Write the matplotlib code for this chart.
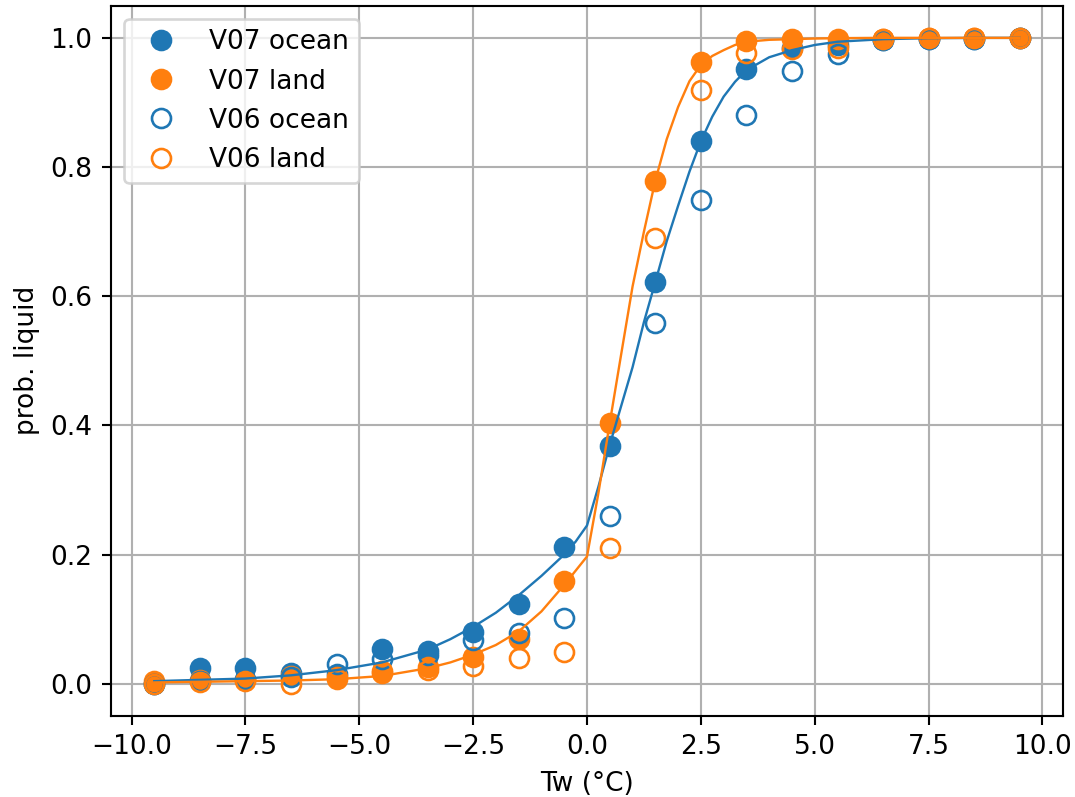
import matplotlib
matplotlib.use("Agg")
import matplotlib.pyplot as plt

# Bin centres (Tw, °C)
tw = [-9.5, -8.5, -7.5, -6.5, -5.5, -4.5, -3.5, -2.5, -1.5, -0.5,
      0.5, 1.5, 2.5, 3.5, 4.5, 5.5, 6.5, 7.5, 8.5, 9.5]

v07_ocean = [0.000, 0.024, 0.024, 0.017, 0.015, 0.054, 0.050, 0.080, 0.124, 0.211,
             0.368, 0.622, 0.840, 0.952, 0.984, 0.989, 0.997, 0.999, 0.999, 1.000]
v07_land = [0.004, 0.006, 0.006, 0.012, 0.011, 0.017, 0.026, 0.042, 0.070, 0.159,
            0.404, 0.779, 0.963, 0.995, 0.998, 0.998, 0.999, 1.000, 1.000, 1.000]
v06_ocean = [0.000, 0.005, 0.008, 0.010, 0.030, 0.038, 0.045, 0.068, 0.078, 0.101,
             0.259, 0.559, 0.749, 0.880, 0.949, 0.975, 0.996, 0.999, 0.998, 1.000]
v06_land = [0.000, 0.003, 0.005, 0.000, 0.008, 0.020, 0.022, 0.028, 0.040, 0.049,
            0.210, 0.690, 0.920, 0.976, 0.982, 0.984, 0.999, 1.000, 1.000, 1.000]

# Fitted curves
fit_x = [-9.5, -8.5, -7.5, -6.5, -5.5, -4.5, -3.5, -3.0, -2.5, -2.0, -1.5, -1.0, -0.5,
         -0.25, 0.0, 0.25, 0.5, 0.75, 1.0, 1.25, 1.5, 1.75, 2.0, 2.25, 2.5,
         2.75, 3.0, 3.25, 3.5, 4.0, 4.5, 5.0, 5.5, 6.5, 7.5, 8.5, 9.5]
fit_ocean = [0.004, 0.006, 0.008, 0.013, 0.021, 0.033, 0.053, 0.069, 0.088, 0.110,
             0.137, 0.167, 0.200, 0.220, 0.245, 0.305, 0.370, 0.430, 0.490, 0.560,
             0.622, 0.685, 0.740, 0.793, 0.840, 0.878, 0.909, 0.932, 0.950, 0.970,
             0.981, 0.989, 0.994, 0.998, 0.9995, 1.000, 1.000]
fit_land = [0.002, 0.003, 0.004, 0.005, 0.007, 0.012, 0.024, 0.033, 0.045, 0.060,
            0.081, 0.112, 0.153, 0.175, 0.197, 0.295, 0.404, 0.510, 0.615, 0.700,
            0.779, 0.843, 0.893, 0.933, 0.958, 0.972, 0.981, 0.989, 0.994, 0.997,
            0.998, 0.999, 0.9995, 1.000, 1.000, 1.000, 1.000]

xticks = [-10.0, -7.5, -5.0, -2.5, 0.0, 2.5, 5.0, 7.5, 10.0]

blue = "#1f77b4"
orange = "#ff7f0e"

DPI = 190
fig = plt.figure(figsize=(1075 / DPI, 797 / DPI), dpi=DPI)
ax = fig.add_axes([0.1033, 0.1016, 0.8855, 0.8914])

ms = 7.2
ax.plot(tw, v07_ocean, "o", color=blue, ms=ms, label="V07 ocean")
ax.plot(tw, v07_land, "o", color=orange, ms=ms, label="V07 land")
ax.plot(tw, v06_ocean, "o", mfc="none", mec=blue, ms=ms, mew=1.0, label="V06 ocean")
ax.plot(tw, v06_land, "o", mfc="none", mec=orange, ms=ms, mew=1.0, label="V06 land")
ax.plot(fit_x, fit_ocean, "-", color=blue, lw=0.9)
ax.plot(fit_x, fit_land, "-", color=orange, lw=0.9)

ax.set_xticks(xticks)
ax.set_xlabel("Tw (°C)")
ax.set_ylabel("prob. liquid")
ax.grid(True)
ax.legend(loc="upper left")

fig.savefig("out.png", dpi=DPI)
